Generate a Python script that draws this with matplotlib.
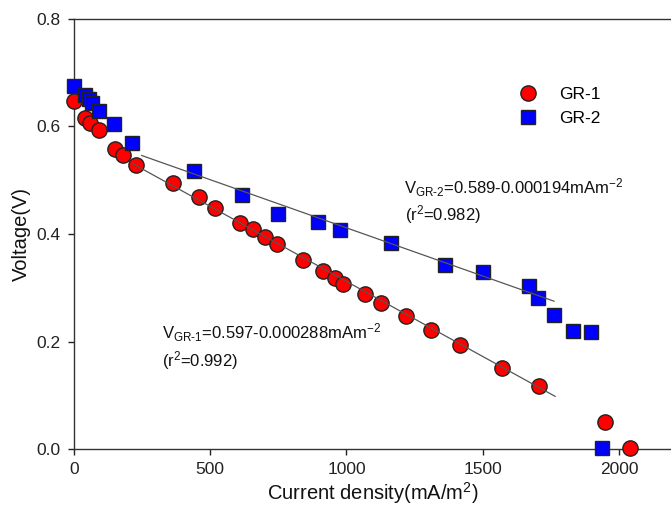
import matplotlib
matplotlib.use("Agg")
import matplotlib.pyplot as plt

plt.rcParams['font.family'] = ['Liberation Sans', 'DejaVu Sans']
plt.rcParams['mathtext.fontset'] = 'custom'
plt.rcParams['mathtext.rm'] = 'Liberation Sans'
plt.rcParams['mathtext.it'] = 'Liberation Sans'
plt.rcParams['mathtext.default'] = 'regular'

# GR-1 data (red circles)
gr1_x = [0, 40, 59, 92, 150, 180, 227, 363, 459, 517, 609, 657, 701, 745, 840,
         914, 958, 987, 1067, 1126, 1218, 1310, 1416, 1570, 1706, 1948, 2040]
gr1_y = [0.648, 0.615, 0.606, 0.594, 0.559, 0.546, 0.528, 0.494, 0.468, 0.448,
         0.420, 0.409, 0.394, 0.381, 0.352, 0.331, 0.319, 0.307, 0.289, 0.272,
         0.248, 0.222, 0.194, 0.150, 0.117, 0.050, 0.002]

# GR-2 data (blue squares)
gr2_x = [0, 40, 55, 66, 92, 147, 213, 440, 616, 748, 895, 976, 1163, 1361, 1500,
         1669, 1702, 1761, 1831, 1897, 1937]
gr2_y = [0.676, 0.659, 0.652, 0.643, 0.628, 0.604, 0.569, 0.518, 0.472, 0.437,
         0.422, 0.407, 0.383, 0.343, 0.330, 0.304, 0.280, 0.250, 0.220, 0.217, 0.002]

# Fit lines (endpoints as drawn)
fit1_x = [215, 1765]
fit1_y = [0.531, 0.098]
fit2_x = [249, 1761]
fit2_y = [0.546, 0.275]

xticks = [0, 500, 1000, 1500, 2000]
yticks = [0.0, 0.2, 0.4, 0.6, 0.8]

fig = plt.figure(figsize=(6.71, 5.12), dpi=100)
ax = fig.add_axes([0.110, 0.123, 0.89, 0.840])

ax.plot(fit1_x, fit1_y, color='#555555', lw=0.9, zorder=4)
ax.plot(fit2_x, fit2_y, color='#555555', lw=0.9, zorder=4)
ax.plot(gr1_x, gr1_y, 'o', ms=11, mfc='#ff0000', mec='#222222', mew=1.0,
        ls='none', label='GR-1', zorder=3, clip_on=False)
ax.plot(gr2_x, gr2_y, 's', ms=10.5, mfc='#0000ff', mec='#222222', mew=1.0,
        ls='none', label='GR-2', zorder=3, clip_on=False)

ax.set_xlim(0, 2190)
ax.set_ylim(0, 0.8)
ax.set_xticks(xticks)
ax.set_xticklabels([str(t) for t in xticks])
ax.set_yticks(yticks)
ax.set_yticklabels(['%.1f' % t for t in yticks])
ax.tick_params(direction='out', length=4.5, width=1, labelsize=12.5,
               colors='#222222', pad=5)
ax.spines['right'].set_visible(False)
for s in ['left', 'top', 'bottom']:
    ax.spines[s].set_linewidth(1.0)
    ax.spines[s].set_color('#333333')

ax.set_xlabel('Current density(mA/m$^2$)', fontsize=14.5, labelpad=2, color='#111111')
ax.set_ylabel('Voltage(V)', fontsize=14.5, labelpad=4, color='#111111')

tkw = dict(fontsize=12, va='center', color='#111111')
ax.text(1210, 0.487, 'V$_{GR\u20102}$=0.589-0.000194mAm$^{-2}$', **tkw)
ax.text(1213, 0.437, '(r$^2$=0.982)', **tkw)
ax.text(325, 0.217, 'V$_{GR\u20101}$=0.597-0.000288mAm$^{-2}$', **tkw)
ax.text(325, 0.165, '(r$^2$=0.992)', **tkw)

leg = ax.legend(loc='upper left', bbox_to_anchor=(0.725, 0.858), frameon=False,
                fontsize=12.5, handletextpad=1.0, labelspacing=0.5, borderaxespad=0,
                handlelength=1.6)

fig.savefig('out.png', dpi=100)
